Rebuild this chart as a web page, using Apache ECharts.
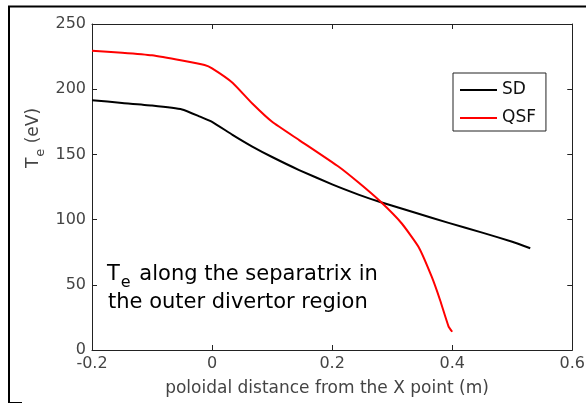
<!DOCTYPE html>
<html>
<head>
<meta charset="utf-8">
<script src="https://cdn.jsdelivr.net/npm/echarts@6/dist/echarts.min.js"></script>
<style>
  html, body { margin: 0; padding: 0; background: #fff; }
  #chart { width: 588px; height: 405px; }
</style>
</head>
<body>
<div id="chart"></div>
<script>
// Electron temperature along the separatrix, outer divertor
const sdX  = [-0.2, -0.15, -0.1, -0.05, -0.02, 0, 0.034, 0.067, 0.1, 0.145, 0.2, 0.245, 0.28, 0.34, 0.394, 0.45, 0.5, 0.53];
const sdY  = [191.5, 189.5, 187.5, 184.5, 179, 175, 165, 156, 148, 138, 127, 119, 113.5, 105, 97.5, 90, 83, 78];
const qsfX = [-0.2, -0.15, -0.1, -0.05, -0.0125, 0, 0.034, 0.067, 0.1, 0.145, 0.211, 0.245, 0.28, 0.316, 0.344, 0.366, 0.38, 0.394, 0.4];
const qsfY = [229.5, 228, 226, 222, 218.5, 216, 205, 189, 175, 161, 140.5, 128, 114, 97, 79, 56, 38, 18, 14];
const xTicks = ['-0.2', '0', '0.2', '0.4', '0.6'];
const yTicks = ['0', '50', '100', '150', '200', '250'];

const FONT = '"DejaVu Sans", "Liberation Sans", Arial, sans-serif';
const zip = (xs, ys) => xs.map((x, i) => [x, ys[i]]);

const tickLabel = (v, list, step, start) => {
  const i = Math.round((v - start) / step);
  return list[i] !== undefined ? list[i] : '';
};

const axisCommon = {
  axisLine: { show: true, onZero: false, lineStyle: { color: '#222', width: 1 } },
  axisTick: { show: true, inside: true, length: 5, lineStyle: { color: '#222' } },
  splitLine: { show: false }
};

const chart = echarts.init(document.getElementById('chart'));
chart.setOption({
  animation: false,
  backgroundColor: '#fff',
  grid: { left: 92, top: 24, right: 14, bottom: 55 },
  xAxis: [
    Object.assign({
      type: 'value', min: -0.2, max: 0.6, interval: 0.2, position: 'bottom',
      axisLabel: { color: '#444', fontFamily: FONT, fontSize: 16, margin: 6,
        formatter: v => tickLabel(v, xTicks, 0.2, -0.2) }
    }, axisCommon),
    Object.assign({
      type: 'value', min: -0.2, max: 0.6, interval: 0.2, position: 'top',
      axisLabel: { show: false }
    }, axisCommon)
  ],
  yAxis: [
    Object.assign({
      type: 'value', min: 0, max: 250, interval: 50, position: 'left',
      axisLabel: { color: '#444', fontFamily: FONT, fontSize: 16, margin: 6,
        formatter: v => tickLabel(v, yTicks, 50, 0) }
    }, axisCommon),
    Object.assign({
      type: 'value', min: 0, max: 250, interval: 50, position: 'right',
      axisLabel: { show: false }
    }, axisCommon)
  ],
  legend: {
    left: 453, top: 73, orient: 'vertical',
    backgroundColor: '#fff',
    borderColor: '#222', borderWidth: 1,
    padding: [8, 10, 4, 7],
    icon: 'rect',
    itemWidth: 37, itemHeight: 2, itemGap: 10,
    textStyle: { color: '#111', fontFamily: FONT, fontSize: 17, lineHeight: 18 },
    data: ['SD', 'QSF']
  },
  series: [
    { name: 'SD', type: 'line', data: zip(sdX, sdY), symbol: 'none', smooth: 0.15,
      lineStyle: { color: '#000', width: 2, join: 'round' }, itemStyle: { color: '#000' } },
    { name: 'QSF', type: 'line', data: zip(qsfX, qsfY), symbol: 'none', smooth: 0.15,
      lineStyle: { color: '#ff0000', width: 2, join: 'round' }, itemStyle: { color: '#ff0000' } }
  ],
  graphic: [
    // frame around the figure
    { type: 'line', shape: { x1: 8, y1: 6.5, x2: 586, y2: 6.5 }, style: { stroke: '#000', lineWidth: 2 } },
    { type: 'line', shape: { x1: 9, y1: 6, x2: 9, y2: 403 }, style: { stroke: '#000', lineWidth: 2 } },
    { type: 'line', shape: { x1: 9, y1: 402.5, x2: 22, y2: 402.5 }, style: { stroke: '#000', lineWidth: 1 } },
    // y-axis title
    { type: 'text', x: 34, y: 138, rotation: Math.PI / 2,
      style: {
        text: 'T{s|e} (eV)', align: 'center', verticalAlign: 'middle',
        fontFamily: FONT, fontSize: 17, fill: '#444',
        rich: { s: { fontFamily: FONT, fontSize: 13, fill: '#444', padding: [14, 0, 0, 1] } }
      }
    },
    // x-axis title
    { type: 'text', x: 327, y: 389,
      style: {
        text: 'poloidal distance from the X point (m)', align: 'center', verticalAlign: 'middle',
        fontFamily: FONT, fontSize: 17, fill: '#444'
      }
    },
    // annotation
    { type: 'text', x: 107, y: 259,
      style: {
        text: 'T{s|e} along the separatrix in', fontFamily: FONT, fontSize: 21, fill: '#000',
        rich: { s: { fontFamily: FONT, fontSize: 16, fill: '#000', padding: [16, 2, 0, 1] } }
      }
    },
    { type: 'text', x: 108, y: 292,
      style: { text: 'the outer divertor region', fontFamily: FONT, fontSize: 21, fill: '#000' }
    }
  ]
});
</script>
</body>
</html>
